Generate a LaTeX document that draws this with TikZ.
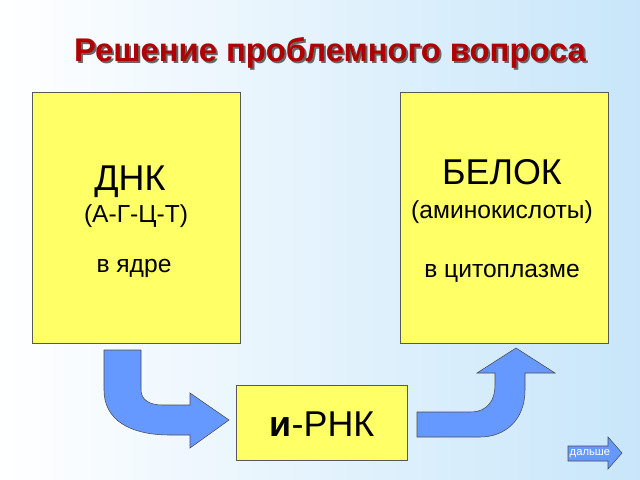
\documentclass[tikz,border=0pt]{standalone}
\usepackage{fontspec}
\setmainfont{Liberation Sans}
\usepackage{tikz}
\usetikzlibrary{positioning}
\definecolor{bgblue}{HTML}{C8E6FA}
\definecolor{boxyellow}{HTML}{FFFF66}
\definecolor{arrowblue}{HTML}{6699FF}
\definecolor{titlered}{HTML}{B00000}

\begin{document}
\begin{tikzpicture}[
  x=0.025cm, y=-0.025cm,
  bigbox/.style={draw=gray!70!black, fill=boxyellow, line width=0.4pt},
  bigtext/.style={font=\fontsize{25.5}{30}\selectfont},
  smalltext/.style={font=\fontsize{17.5}{21}\selectfont},
  bentarrow/.style={draw=black!70, fill=arrowblue, line width=0.4pt}
]

% background
\shade[left color=white, right color=bgblue] (0,0) rectangle (640,480);
\useasboundingbox (0,0) rectangle (640,480);

% title
\node[text=black!60, font=\bfseries\fontsize{23.3}{28}\selectfont] at (332,55) {Решение проблемного вопроса};
\node[text=titlered, font=\bfseries\fontsize{23.3}{28}\selectfont] (title) at (330,53) {Решение проблемного вопроса};

% boxes
\draw[bigbox] (32,92) rectangle (240,343);
\draw[bigbox] (400,92) rectangle (608,343);
\draw[bigbox] (236,385) rectangle (407,460);
\node[bigtext] (dna) at (130,182) {ДНК};
\node[smalltext] (dnaseq) at (136,216) {(А-Г-Ц-Т)};
\node[smalltext] (dnaloc) at (134,268) {в ядре};
\node[bigtext] (protein) at (502,172) {БЕЛОК};
\node[smalltext] (amino) at (502,212) {(аминокислоты)};
\node[smalltext] (protloc) at (502,273) {в цитоплазме};
\node[bigtext] (rna) at (322,424) {\textbf{и}-РНК};

% arrows
\draw[bentarrow] (104,350) -- (141,350) -- (141,390)
  .. controls (141,400) and (150,405) .. (162,405) -- (190,405)
  -- (190,393) -- (229,420) -- (190,448) -- (190,435) -- (170,435)
  .. controls (130,435) and (104,420) .. (104,390) -- cycle;
\draw[bentarrow] (417,412) -- (470,412)
  .. controls (488,412) and (495,400) .. (495,385) -- (495,373)
  -- (477,373) -- (516,348) -- (555,373) -- (525,373) -- (525,390)
  .. controls (525,420) and (505,437) .. (480,437) -- (417,437) -- cycle;

% next button
\draw[bentarrow] (568,446) -- (608,446) -- (608,437) -- (622,453)
  -- (608,469) -- (608,461) -- (568,461) -- cycle;
\node[text=white, font=\fontsize{8}{9}\selectfont] (next) at (590,454) {дальше};

\end{tikzpicture}
\end{document}
